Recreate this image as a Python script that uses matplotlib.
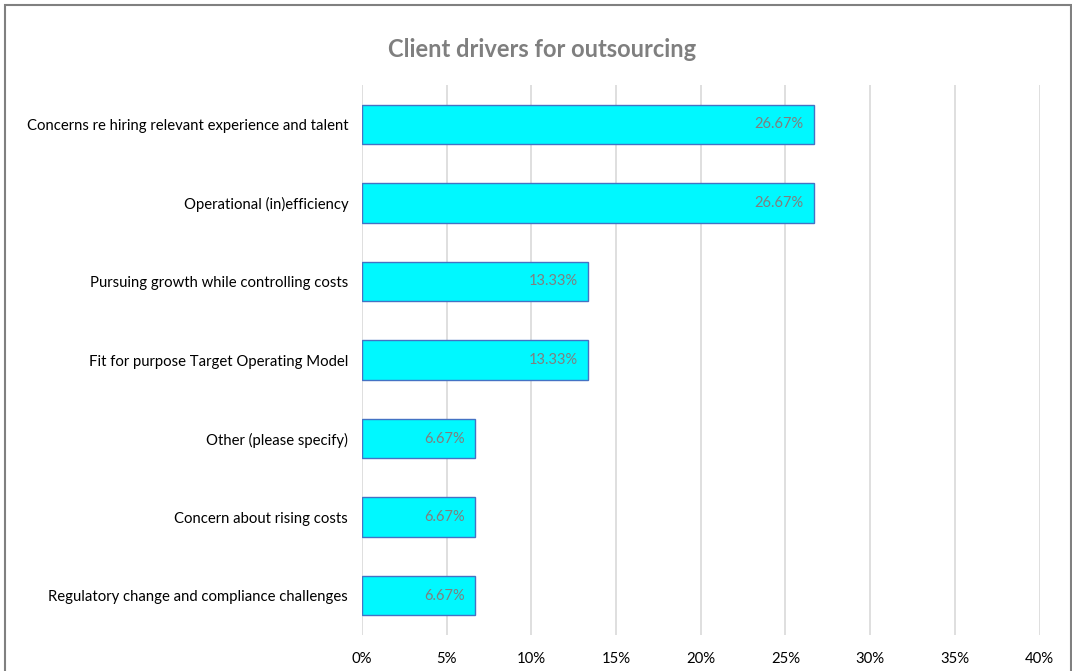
import matplotlib.pyplot as plt
from matplotlib.patches import Rectangle
from matplotlib.ticker import PercentFormatter

plt.rcParams['font.family'] = ['Lato', 'DejaVu Sans']

# Drivers, top to bottom
drivers = [
    'Concerns re hiring relevant experience and talent',
    'Operational (in)efficiency',
    'Pursuing growth while controlling costs',
    'Fit for purpose Target Operating Model',
    'Other (please specify)',
    'Concern about rising costs',
    'Regulatory change and compliance challenges',
]
shares = [26.67, 26.67, 13.33, 13.33, 6.67, 6.67, 6.67]
xticks = [0, 5, 10, 15, 20, 25, 30, 35, 40]

fig = plt.figure(figsize=(10.72, 6.71), dpi=100)
ax = fig.add_axes([0.3377, 0.0537, 0.632, 0.8195])

pos = list(range(len(drivers)))[::-1]
ax.barh(pos, shares, height=0.5, color='#00F8FF', edgecolor='#4472C4', linewidth=1, zorder=3)

for y, v in zip(pos, shares):
    ax.text(v - 0.6, y, f'{v:.2f}%', ha='right', va='center', color='#7F7F7F', fontsize=10.5, zorder=4)

ax.set_xlim(0, 40)
ax.set_ylim(-0.5, len(drivers) - 0.5)
ax.set_xticks(xticks)
ax.xaxis.set_major_formatter(PercentFormatter(decimals=0))
ax.set_yticks(pos)
ax.set_yticklabels(drivers)
ax.tick_params(axis='both', length=0, labelsize=10.7, colors='black')
ax.tick_params(axis='y', pad=10)
ax.tick_params(axis='x', pad=12)
ax.grid(axis='x', color='#D9D9D9', linewidth=1.2, zorder=0)
for s in ax.spines.values():
    s.set_visible(False)

fig.text(0.506, 0.926, 'Client drivers for outsourcing', ha='center', va='center',
         fontsize=17, fontweight='bold', color='#7F7F7F')

# outer frame
fig.patches.append(Rectangle((0.005, -0.05), 0.994, 1.043, transform=fig.transFigure,
                             fill=False, edgecolor='#808080', linewidth=1.5))

plt.savefig('out.png', dpi=100)
